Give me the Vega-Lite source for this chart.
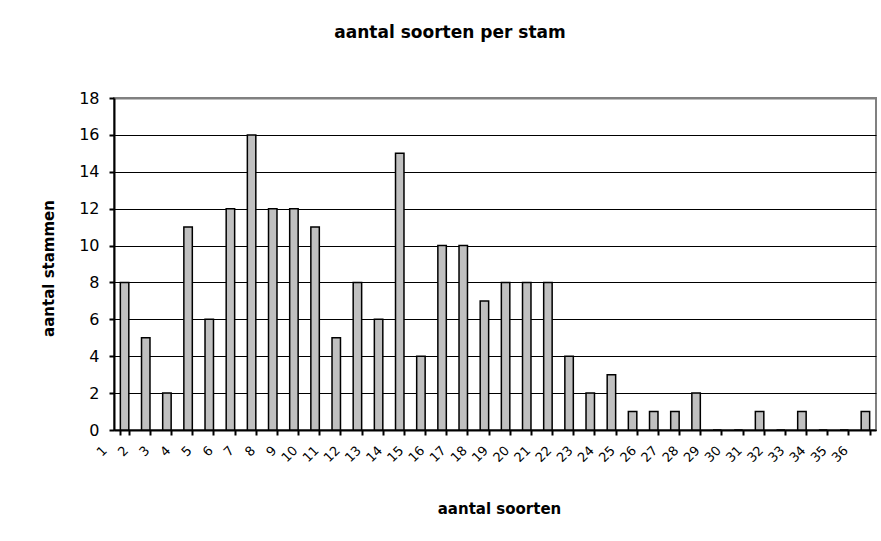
{
  "$schema": "https://vega.github.io/schema/vega-lite/v6.json",
  "autosize": {"type": "none"},
  "padding": {"left": 114, "top": 98, "right": 5, "bottom": 111},
  "width": 762,
  "height": 332,
  "background": "white",
  "config": {
    "font": "DejaVu Sans",
    "view": {"stroke": "#808080", "strokeWidth": 2}
  },
  "title": {
    "text": "aantal soorten per stam",
    "font": "DejaVu Sans",
    "fontSize": 17,
    "fontWeight": "bold",
    "color": "black",
    "anchor": "middle",
    "dx": -45,
    "offset": 48
  },
  "data": {
    "values": [
      {"soorten": 1, "stammen": 8},
      {"soorten": 2, "stammen": 5},
      {"soorten": 3, "stammen": 2},
      {"soorten": 4, "stammen": 11},
      {"soorten": 5, "stammen": 6},
      {"soorten": 6, "stammen": 12},
      {"soorten": 7, "stammen": 16},
      {"soorten": 8, "stammen": 12},
      {"soorten": 9, "stammen": 12},
      {"soorten": 10, "stammen": 11},
      {"soorten": 11, "stammen": 5},
      {"soorten": 12, "stammen": 8},
      {"soorten": 13, "stammen": 6},
      {"soorten": 14, "stammen": 15},
      {"soorten": 15, "stammen": 4},
      {"soorten": 16, "stammen": 10},
      {"soorten": 17, "stammen": 10},
      {"soorten": 18, "stammen": 7},
      {"soorten": 19, "stammen": 8},
      {"soorten": 20, "stammen": 8},
      {"soorten": 21, "stammen": 8},
      {"soorten": 22, "stammen": 4},
      {"soorten": 23, "stammen": 2},
      {"soorten": 24, "stammen": 3},
      {"soorten": 25, "stammen": 1},
      {"soorten": 26, "stammen": 1},
      {"soorten": 27, "stammen": 1},
      {"soorten": 28, "stammen": 2},
      {"soorten": 29, "stammen": 0},
      {"soorten": 30, "stammen": 0},
      {"soorten": 31, "stammen": 1},
      {"soorten": 32, "stammen": 0},
      {"soorten": 33, "stammen": 1},
      {"soorten": 34, "stammen": 0},
      {"soorten": 35, "stammen": 0},
      {"soorten": 36, "stammen": 1}
    ]
  },
  "mark": {"type": "bar", "fill": "#C0C0C0", "stroke": "black", "strokeWidth": 1.5},
  "encoding": {
    "x": {
      "field": "soorten",
      "type": "ordinal",
      "sort": null,
      "scale": {"paddingInner": 0.6, "paddingOuter": 0.3},
      "axis": {
        "title": "aantal soorten",
        "titleFont": "DejaVu Sans",
        "titleFontSize": 15,
        "titleFontWeight": "bold",
        "titleColor": "black",
        "titleY": 83,
        "titleBaseline": "alphabetic",
        "titleX": 385,
        "labelAngle": -45,
        "labelAlign": "right",
        "labelBaseline": "middle",
        "labelFontSize": 13,
        "labelColor": "black",
        "labelPadding": 13,
        "labelOffset": -20,
        "labelOverlap": false,
        "tickBand": "extent",
        "tickColor": "black",
        "tickWidth": 2,
        "tickSize": 5,
        "domainColor": "black",
        "domainWidth": 2,
        "grid": false
      }
    },
    "y": {
      "field": "stammen",
      "type": "quantitative",
      "scale": {"domain": [0, 18], "nice": false},
      "axis": {
        "title": "aantal stammen",
        "titleFont": "DejaVu Sans",
        "titleFontSize": 15,
        "titleFontWeight": "bold",
        "titleColor": "black",
        "titleX": -66,
        "titleY": 170,
        "titleBaseline": "middle",
        "values": [0, 2, 4, 6, 8, 10, 12, 14, 16, 18],
        "labelFontSize": 16,
        "labelColor": "black",
        "labelPadding": 10,
        "tickColor": "black",
        "tickWidth": 2,
        "tickSize": 5,
        "domainColor": "black",
        "domainWidth": 2,
        "grid": true,
        "gridColor": {"condition": {"test": "datum.value === 18", "value": "#808080"}, "value": "black"},
        "gridWidth": {"condition": {"test": "datum.value === 18", "value": 2}, "value": 1},
        "gridOpacity": 1
      }
    }
  }
}
